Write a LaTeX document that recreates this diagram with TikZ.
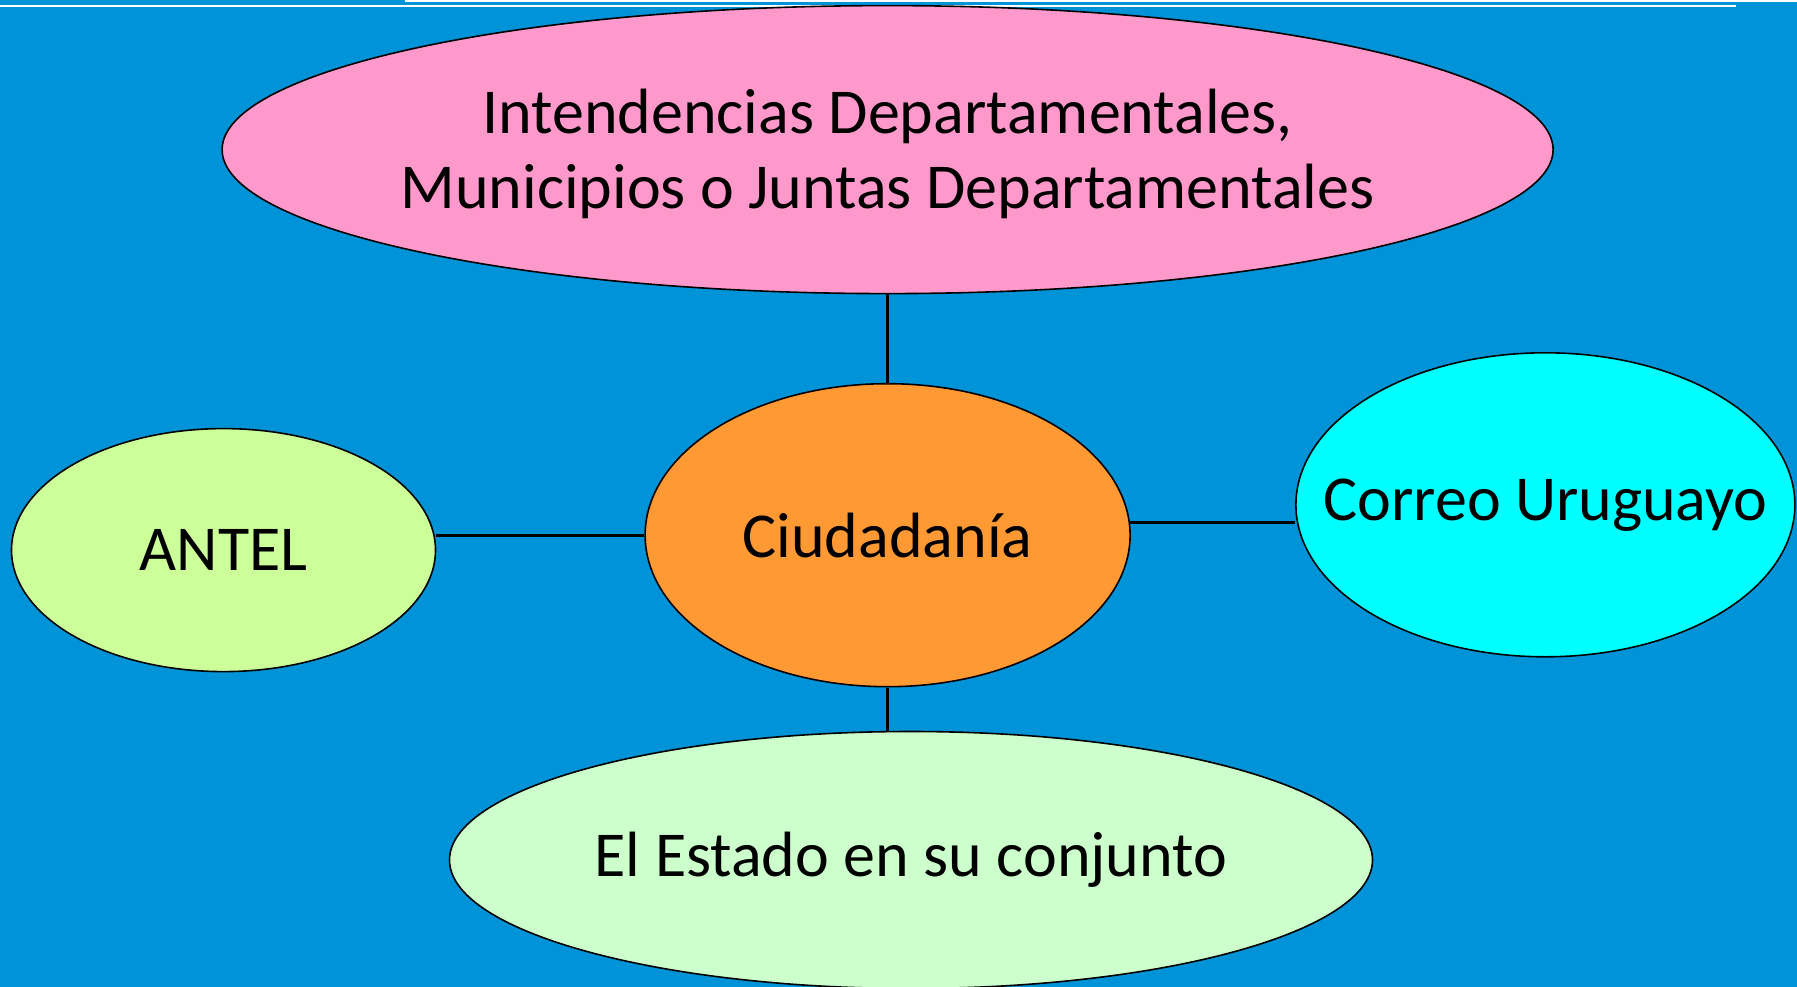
\documentclass[tikz,border=0pt]{standalone}
\usepackage{fontspec}
\setmainfont{Carlito}
\usetikzlibrary{shapes.geometric}
\definecolor{bgblue}{HTML}{0093D7}
\definecolor{pinkfill}{HTML}{FF99CC}
\definecolor{orangefill}{HTML}{FF9933}
\definecolor{limefill}{HTML}{CCFF99}
\definecolor{cyanfill}{HTML}{00FFFF}
\definecolor{palegreen}{HTML}{CCFFCC}
\tikzset{
  bubble/.style={ellipse, draw=black, line width=1.6pt, inner sep=0pt},
  bubbletext/.style={align=center, inner sep=0pt, text=black,
    font=\fontsize{64}{75}\selectfont},
  link/.style={draw=black, line width=3.2pt},
  rule/.style={draw=white, line width=2pt}
}
\begin{document}
\begin{tikzpicture}[x=1pt,y=1pt]
\fill[bgblue] (0,0) rectangle (1797,-987);
\useasboundingbox (0,0) rectangle (1797,-987);
\draw[rule] (0,-6) -- (1736,-6);
\draw[rule] (405,-1) -- (1797,-1);

\node[bubble, fill=pinkfill, minimum width=1331pt, minimum height=288pt,
  label={[bubbletext, yshift=-4pt]center:Intendencias Departamentales,\\Municipios o Juntas Departamentales}] (pink) at (887.6,-149.6) {};
\node[bubble, fill=orangefill, minimum width=485pt, minimum height=303pt,
  label={[bubbletext]center:Ciudadanía}] (ciud) at (887.6,-535.2) {};
\node[bubble, fill=limefill, minimum width=424pt, minimum height=243pt,
  label={[bubbletext]center:ANTEL}] (antel) at (223.5,-550.1) {};
\node[bubble, fill=cyanfill, minimum width=499pt, minimum height=304pt,
  label={[bubbletext]center:Correo Uruguayo}] (correo) at (1545.4,-504.8) {};
\node[bubble, fill=palegreen, minimum width=923pt, minimum height=257pt,
  label={[bubbletext]center:El Estado en su conjunto}] (estado) at (911,-860) {};

\draw[link] (pink.south) -- (ciud.north);
\draw[link] (ciud.west) -- (ciud.west -| antel.east);
\draw[link] (ciud.3.6) -- (ciud.3.6 -| correo.west);
\draw[link] (ciud.south) -- (ciud.south |- estado.north);
\end{tikzpicture}
\end{document}
